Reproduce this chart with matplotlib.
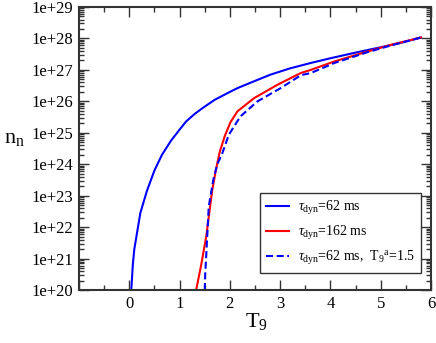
import numpy as np
import matplotlib
matplotlib.use("Agg")
import matplotlib.pyplot as plt
from matplotlib.ticker import FixedLocator, FixedFormatter, LogLocator, NullFormatter

plt.rcParams['font.family'] = ['Liberation Serif', 'DejaVu Serif']
plt.rcParams['mathtext.fontset'] = 'custom'
plt.rcParams['mathtext.rm'] = 'Liberation Serif'
plt.rcParams['mathtext.it'] = 'Liberation Serif:italic'

# --- data (log10 of n_n vs T9) ---
t9_62 = [0.04, 0.07, 0.10, 0.22, 0.35, 0.50, 0.65, 0.83, 1.00, 1.13, 1.30, 1.47,
         1.70, 2.00, 2.15, 2.50, 2.81, 3.20, 3.61, 4.00, 4.50, 5.00, 5.40, 5.80]
logn_62 = [20.0, 20.8, 21.3, 22.45, 23.15, 23.8, 24.3, 24.75, 25.1, 25.36, 25.6, 25.8,
           26.05, 26.3, 26.42, 26.65, 26.85, 27.05, 27.22, 27.37, 27.55, 27.72, 27.86, 28.03]

t9_162 = [1.33, 1.43, 1.53, 1.65, 1.72, 1.80, 1.90, 2.01, 2.15, 2.48, 2.95, 3.41,
          3.61, 4.08, 4.75, 5.21, 5.80]
logn_162 = [20.0, 20.8, 21.7, 23.18, 23.8, 24.4, 24.9, 25.33, 25.68, 26.1, 26.53, 26.9,
            27.0, 27.27, 27.59, 27.8, 28.03]

t9_62a = [1.50, 1.51, 1.53, 1.58, 1.67, 1.75, 1.85, 1.98, 2.21, 2.55, 3.01, 3.41,
          3.61, 4.08, 4.75, 5.21, 5.80]
logn_62a = [20.0, 20.5, 21.1, 22.65, 23.5, 24.0, 24.35, 24.94, 25.52, 26.0, 26.42, 26.83,
            26.9, 27.22, 27.57, 27.78, 28.03]

labels = [r'$\tau_{\rm dyn}$=62 ms', r'$\tau_{\rm dyn}$=162 ms',
          r'$\tau_{\rm dyn}$=62 ms,  T$_9$$^{\rm a}$=1.5']
xticks = [-1, 0, 1, 2, 3, 4, 5, 6]
xticklabels = ['', '0', '1', '2', '3', '4', '5', '6']
ydecades = list(range(20, 30))
yticklabels = ['1e+%d' % d for d in ydecades]

W, H = 436, 343
fig = plt.figure(figsize=(W / 100, H / 100), dpi=100)
ax = fig.add_axes([79 / W, (H - 290) / H, 352 / W, 283 / H])

lw = 1.5
ax.plot(t9_62, np.power(10.0, logn_62), color='#0000ff', lw=lw, label=labels[0])
ax.plot(t9_162, np.power(10.0, logn_162), color='#ff0000', lw=lw, label=labels[1])
ax.plot(t9_62a, np.power(10.0, logn_62a), color='#0000ff', lw=lw,
        dashes=(3.4, 1.7), label=labels[2])

ax.set_yscale('log')
ax.set_xlim(-1, 6)
ax.set_ylim(1e20, 1e29)

ax.xaxis.set_major_locator(FixedLocator(xticks))
ax.xaxis.set_major_formatter(FixedFormatter(xticklabels))
ax.xaxis.set_minor_locator(FixedLocator(np.arange(-0.5, 6, 1.0)))
ax.yaxis.set_major_locator(FixedLocator([10.0 ** d for d in ydecades]))
ax.yaxis.set_major_formatter(FixedFormatter(yticklabels))
ax.yaxis.set_minor_locator(LogLocator(base=10, subs=np.arange(2, 10), numticks=100))
ax.yaxis.set_minor_formatter(NullFormatter())

ax.tick_params(which='both', direction='in', top=True, right=True, colors='#333333',
               labelcolor='black', labelsize=12)
ax.tick_params(which='major', length=7.2, width=1.0, pad=4)
ax.tick_params(which='minor', length=3.6, width=1.0)
for s in ax.spines.values():
    s.set_linewidth(1.5)
    s.set_color('#333333')

fig.text(4 / W, 1 - 143 / H, r'n$_{\rm n}$', fontsize=16, ha='left', va='baseline')
fig.text(256 / W, 1 - 327 / H, r'T$_9$', fontsize=16, ha='center', va='baseline')

leg = ax.legend(loc='upper left', bbox_to_anchor=(259.5 / W, 1 - 193 / H),
                bbox_transform=fig.transFigure, fontsize=10, frameon=True,
                fancybox=False, shadow=False, handlelength=1.65, handletextpad=0.7,
                borderpad=0.45, labelspacing=0.5, borderaxespad=0)
leg.get_frame().set_edgecolor('#333333')
leg.get_frame().set_linewidth(1.0)
leg.get_frame().set_alpha(1)

fig.savefig('out.png', dpi=100)
